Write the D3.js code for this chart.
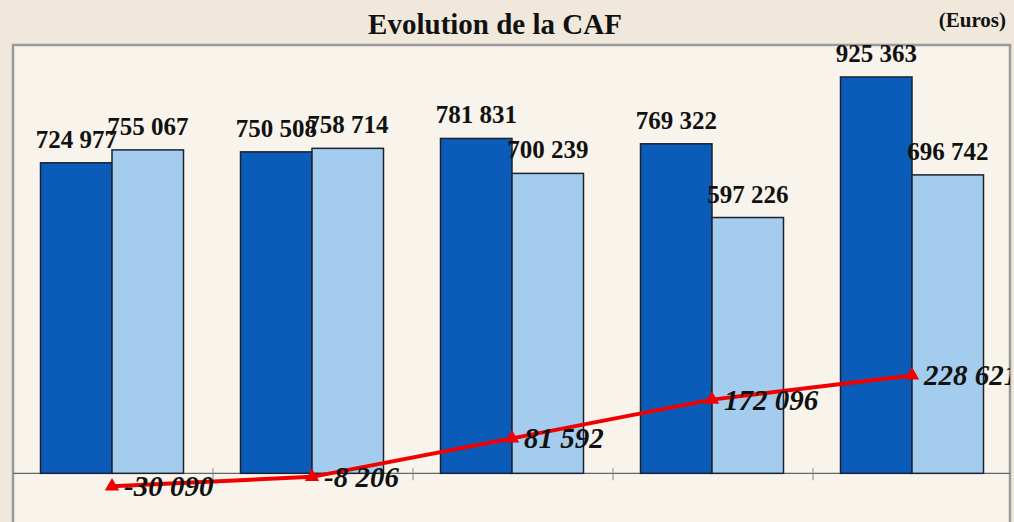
<!DOCTYPE html>
<html><head><meta charset="utf-8">
<script src="https://cdn.jsdelivr.net/npm/d3@7"></script>
<style>
html,body{margin:0;padding:0;background:#f1ebde;}
svg{display:block;}
</style></head>
<body>
<svg id="chart" width="1014" height="522"></svg>
<script>
const categories = ["N-4", "N-3", "N-2", "N-1", "N"];
const cafBrute = [724977, 750508, 781831, 769322, 925363];
const remboursement = [755067, 758714, 700239, 597226, 696742];
const cafNette = [-30090, -8206, 81592, 172096, 228621];

const fmt = v => d3.format(",")(v).replace(/,/g, " ").replace("−", "-");

const svg = d3.select("#chart");
const W = 1014, H = 522;
const plot = {left: 13, right: 1013, top: 45, bottom: 559};

svg.append("rect").attr("width", W).attr("height", H).attr("fill", "#f0e9db");
svg.append("rect").attr("x", plot.left).attr("y", plot.top)
  .attr("width", 997).attr("height", plot.bottom - plot.top)
  .attr("fill", "#f8f4eb").attr("stroke", "#9a9a9a").attr("stroke-width", 2.5);

svg.append("defs").append("clipPath").attr("id", "clip")
  .append("rect").attr("x", plot.left).attr("y", 0).attr("width", 997).attr("height", H);

const x = d3.scaleBand().domain(categories).range([plot.left, plot.right]).paddingInner(0).paddingOuter(0);
const y = d3.scaleLinear().domain([-200000, 1000000]).range([plot.bottom, plot.top]);
const barW = 71.5;

const g = svg.append("g");

g.append("line").attr("x1", plot.left).attr("x2", 1010).attr("y1", y(0)).attr("y2", y(0))
  .attr("stroke", "#666").attr("stroke-width", 1.2);
categories.slice(1).forEach(c => {
  g.append("line").attr("x1", x(c)).attr("x2", x(c)).attr("y1", y(0) - 5).attr("y2", y(0) + 7)
    .attr("stroke", "#888").attr("stroke-width", 1);
});

const cx = c => x(c) + x.bandwidth() / 2 - 1;

g.selectAll(".b1").data(categories).enter().append("rect")
  .attr("x", c => cx(c) - barW).attr("width", barW)
  .attr("y", (c, i) => y(cafBrute[i])).attr("height", (c, i) => y(0) - y(cafBrute[i]))
  .attr("fill", "#0a5cb8").attr("stroke", "#1b2230").attr("stroke-width", 1.5);
g.selectAll(".b2").data(categories).enter().append("rect")
  .attr("x", c => cx(c)).attr("width", barW)
  .attr("y", (c, i) => y(remboursement[i])).attr("height", (c, i) => y(0) - y(remboursement[i]))
  .attr("fill", "#a4ccee").attr("stroke", "#1b2230").attr("stroke-width", 1.5);

const lblFont = "'Liberation Serif', 'Times New Roman', serif";
g.selectAll(".l1").data(categories).enter().append("text")
  .attr("x", c => cx(c) - barW / 2).attr("y", (c, i) => y(cafBrute[i]) - 15)
  .attr("text-anchor", "middle").attr("font-family", lblFont).attr("font-weight", "bold")
  .attr("font-size", 25).attr("fill", "#111").text((c, i) => fmt(cafBrute[i]));
g.selectAll(".l2").data(categories).enter().append("text")
  .attr("x", c => cx(c) + barW / 2).attr("y", (c, i) => y(remboursement[i]) - 15)
  .attr("text-anchor", "middle").attr("font-family", lblFont).attr("font-weight", "bold")
  .attr("font-size", 25).attr("fill", "#111").text((c, i) => fmt(remboursement[i]));

const line = d3.line().x((d, i) => cx(categories[i])).y(d => y(d));
g.append("path").datum(cafNette).attr("d", line).attr("fill", "none")
  .attr("stroke", "#f00000").attr("stroke-width", 4).attr("stroke-linejoin", "round");
const tri = d3.symbol().type(d3.symbolTriangle).size(90);
g.selectAll(".m").data(cafNette).enter().append("path")
  .attr("d", tri).attr("transform", (d, i) => `translate(${cx(categories[i])},${y(d)})`)
  .attr("fill", "#f00000");
g.append("g").attr("clip-path", "url(#clip)")
  .selectAll(".l3").data(cafNette).enter().append("text")
  .attr("x", (d, i) => cx(categories[i]) + 12).attr("y", d => y(d) + 10)
  .attr("font-family", lblFont).attr("font-weight", "bold").attr("font-style", "italic")
  .attr("font-size", 29).attr("fill", "#111").text(d => fmt(d));

svg.append("text").attr("x", 495).attr("y", 34).attr("text-anchor", "middle")
  .attr("font-family", lblFont).attr("font-weight", "bold").attr("font-size", 29)
  .attr("fill", "#111").text("Evolution de la CAF");
svg.append("text").attr("x", 1006).attr("y", 27).attr("text-anchor", "end")
  .attr("font-family", lblFont).attr("font-weight", "bold").attr("font-size", 21)
  .attr("fill", "#111").text("(Euros)");
</script>
</body></html>
